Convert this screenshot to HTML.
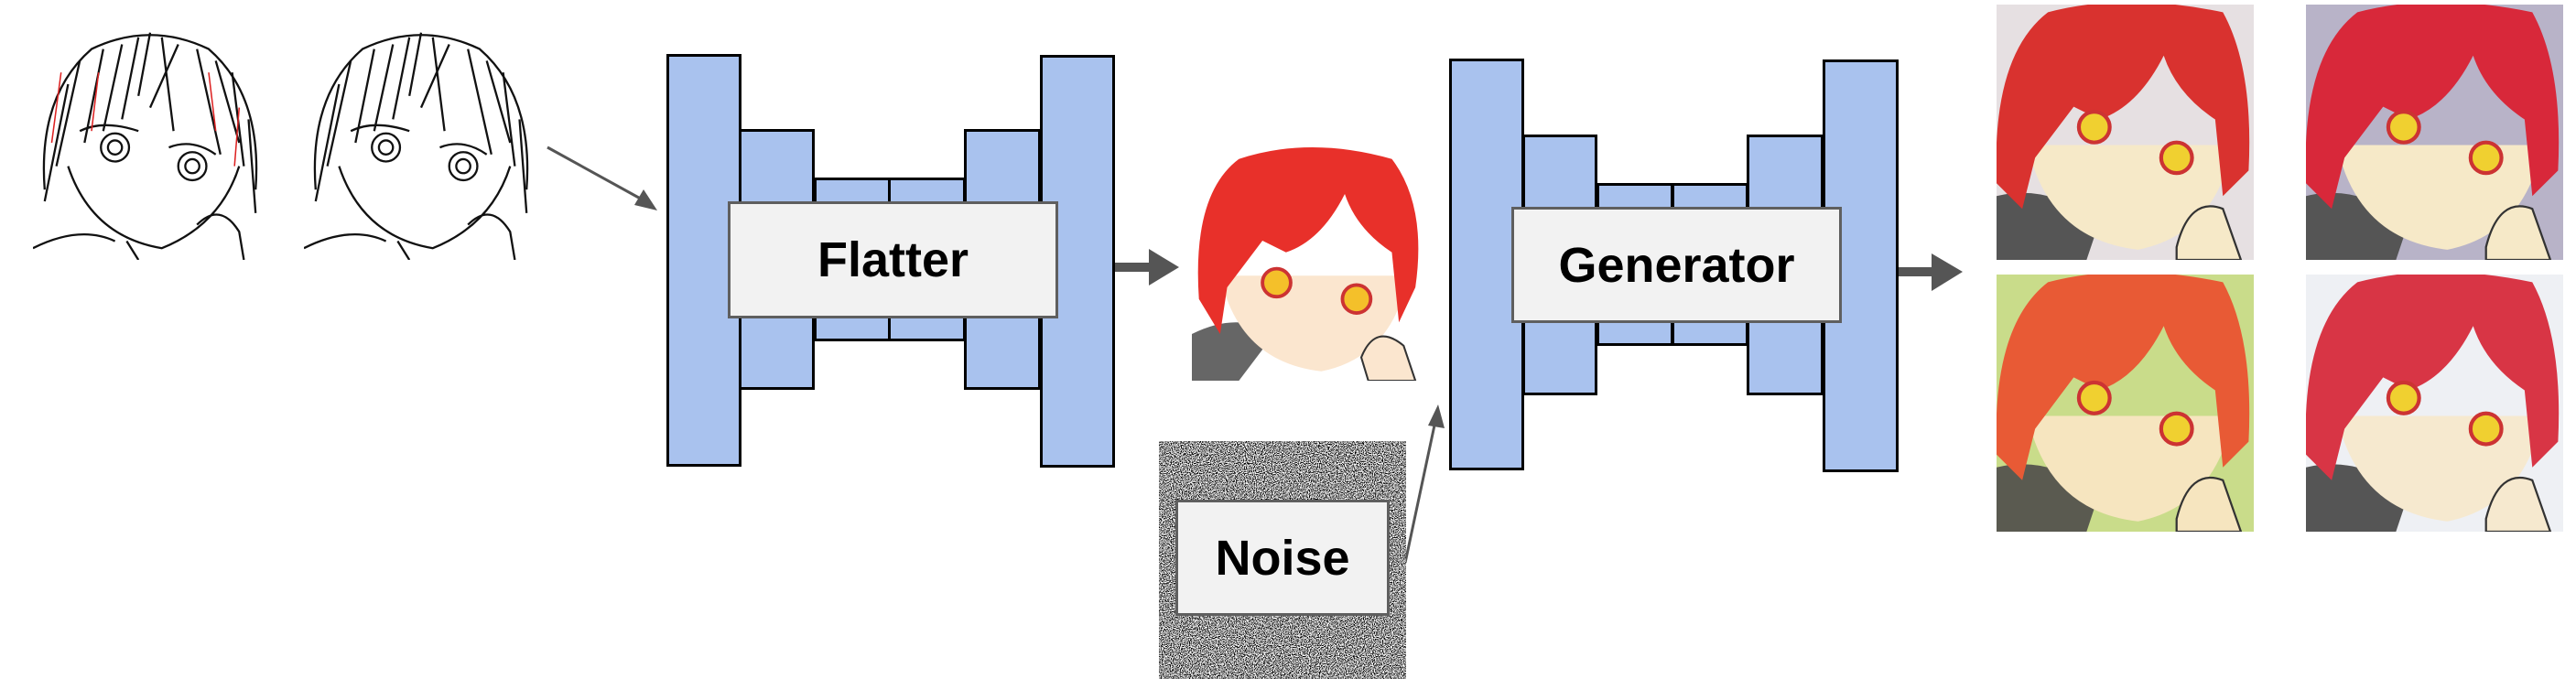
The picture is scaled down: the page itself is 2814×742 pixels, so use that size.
<!DOCTYPE html>
<html><head><meta charset="utf-8"><style>
html,body{margin:0;padding:0;background:#fff;}
body{width:2814px;height:742px;position:relative;overflow:hidden;font-family:"Liberation Sans",Arial,sans-serif;}
.b{position:absolute;background:#a9c2ee;border:3px solid #000;box-sizing:border-box;}
.box{position:absolute;background:#f2f2f2;border:3px solid #5f5f5f;box-sizing:border-box;display:flex;align-items:center;justify-content:center;font-weight:bold;font-size:54px;color:#000;}
.img{position:absolute;}
</style></head><body>

<!-- sketches -->
<svg class="img" style="left:36px;top:28px" width="256" height="256" viewBox="0 0 100 100" preserveAspectRatio="none">
<g fill="none" stroke="#111" stroke-width="0.9">
<path d="M5 70 Q2 30 25 10 Q50 -2 75 10 Q98 30 95 70"/><path d="M20 15 L10 60 M30 10 L22 50 M45 5 L38 40 M55 5 L60 45 M70 10 L80 55 M85 20 L90 60 M62 8 L50 35 M15 25 L5 75 M38 8 L30 45 M78 15 L88 50 M50 3 L45 30 M92 40 L95 80"/>
<path d="M15 60 Q25 90 55 95 Q80 85 88 60"/><circle cx="35" cy="52" r="6"/><circle cx="35" cy="52" r="3"/><circle cx="68" cy="60" r="6"/><circle cx="68" cy="60" r="3"/>
<path d="M0 95 Q20 85 35 92 M70 85 Q80 75 88 88 L90 100 M40 92 L45 100 M20 45 Q30 40 45 45 M58 52 Q68 48 78 55"/></g>
<g stroke="#d22" stroke-width="0.6"><path d="M12 20 L8 50 M28 20 L25 45 M75 20 L78 45 M88 35 L86 60"/></g>
</svg>
<svg class="img" style="left:332px;top:28px" width="256" height="256" viewBox="0 0 100 100" preserveAspectRatio="none">
<g fill="none" stroke="#111" stroke-width="0.9">
<path d="M5 70 Q2 30 25 10 Q50 -2 75 10 Q98 30 95 70"/><path d="M20 15 L10 60 M30 10 L22 50 M45 5 L38 40 M55 5 L60 45 M70 10 L80 55 M85 20 L90 60 M62 8 L50 35 M15 25 L5 75 M38 8 L30 45 M78 15 L88 50 M50 3 L45 30 M92 40 L95 80"/>
<path d="M15 60 Q25 90 55 95 Q80 85 88 60"/><circle cx="35" cy="52" r="6"/><circle cx="35" cy="52" r="3"/><circle cx="68" cy="60" r="6"/><circle cx="68" cy="60" r="3"/>
<path d="M0 95 Q20 85 35 92 M70 85 Q80 75 88 88 L90 100 M40 92 L45 100 M20 45 Q30 40 45 45 M58 52 Q68 48 78 55"/></g>
</svg>

<!-- arrows -->
<svg class="img" style="left:0;top:0" width="2814" height="742">
<line x1="598" y1="161" x2="705" y2="220" stroke="#555" stroke-width="3"/>
<polygon points="718,230 693,224 703,207" fill="#555"/>
<rect x="1217" y="287" width="40" height="10" fill="#555"/>
<polygon points="1255,272 1288,292 1255,312" fill="#555"/>
<rect x="2073" y="292" width="40" height="10" fill="#555"/>
<polygon points="2110,277 2144,297 2110,318" fill="#555"/>
<line x1="1535" y1="615" x2="1568" y2="460" stroke="#555" stroke-width="3"/>
<polygon points="1571,442 1578,468 1560,465" fill="#555"/>
</svg>

<!-- Flatter -->
<div class="b" style="left:728px;top:59px;width:82px;height:451px"></div>
<div class="b" style="left:807px;top:141px;width:83px;height:285px"></div>
<div class="b" style="left:889px;top:194px;width:84px;height:179px"></div>
<div class="b" style="left:970px;top:194px;width:85px;height:179px"></div>
<div class="b" style="left:1053px;top:141px;width:84px;height:285px"></div>
<div class="b" style="left:1136px;top:60px;width:82px;height:451px"></div>
<div class="box" style="left:795px;top:220px;width:361px;height:128px">Flatter</div>

<!-- Generator -->
<div class="b" style="left:1583px;top:64px;width:82px;height:450px"></div>
<div class="b" style="left:1663px;top:147px;width:82px;height:285px"></div>
<div class="b" style="left:1744px;top:200px;width:84px;height:178px"></div>
<div class="b" style="left:1826px;top:200px;width:84px;height:178px"></div>
<div class="b" style="left:1908px;top:147px;width:84px;height:285px"></div>
<div class="b" style="left:1991px;top:65px;width:83px;height:451px"></div>
<div class="box" style="left:1651px;top:226px;width:361px;height:127px">Generator</div>

<!-- noise -->
<svg class="img" style="left:1266px;top:482px" width="270" height="260">
<filter id="n2" x="0" y="0" width="100%" height="100%"><feTurbulence type="fractalNoise" baseFrequency="0.9" numOctaves="1" seed="5"/><feColorMatrix type="matrix" values="0 0 0 0 0 0 0 0 0 0 0 0 0 0 0 0 0 0 0 0" result="z"/><feTurbulence type="fractalNoise" baseFrequency="0.9" numOctaves="1" seed="5"/><feColorMatrix type="matrix" values="1 0 0 0 0 1 0 0 0 0 1 0 0 0 0 0 0 0 0 1"/><feComponentTransfer><feFuncR type="linear" slope="5" intercept="-2.1"/><feFuncG type="linear" slope="5" intercept="-2.1"/><feFuncB type="linear" slope="5" intercept="-2.1"/><feFuncA type="table" tableValues="1 1"/></feComponentTransfer></filter>
<rect width="270" height="260" fill="#777"/>
<rect width="270" height="260" filter="url(#n2)"/>
</svg>
<div class="box" style="left:1284px;top:546px;width:234px;height:127px">Noise</div>

<!-- faces -->
<svg class="img" style="left:1302px;top:161px" width="257" height="255" viewBox="0 0 100 100" preserveAspectRatio="none">
<rect width="100" height="100" fill="#fff"/>
<path d="M0 100 L0 80 Q20 70 35 80 L20 100Z" fill="#666"/>
<path d="M12 55 Q20 92 55 96 Q85 90 92 55 Z" fill="#fbe6cf"/>
<path d="M3 65 Q0 20 20 5 Q50 -5 85 5 Q100 25 95 60 L88 75 L85 45 Q70 35 65 20 Q55 40 40 45 L30 40 L15 60 L12 80Z" fill="#e8302a"/>
<circle cx="36" cy="58" r="6" fill="#f4c02a" stroke="#c33" stroke-width="1.5"/><circle cx="70" cy="65" r="6" fill="#f4c02a" stroke="#c33" stroke-width="1.5"/>
<path d="M72 90 Q78 75 90 85 L95 100 L75 100Z" fill="#fbe6cf" stroke="#333" stroke-width="0.8"/>
</svg>
<svg class="img" style="left:2181px;top:5px" width="281" height="279" viewBox="0 0 100 100" preserveAspectRatio="none">
<rect width="100" height="100" fill="#e6e0e2"/>
<path d="M0 100 L0 75 Q20 70 40 85 L35 100Z" fill="#555"/>
<path d="M12 55 Q20 92 55 96 Q85 90 92 55 Z" fill="#f6e9c8"/>
<path d="M0 70 Q-2 20 20 3 Q50 -5 88 3 Q100 25 98 65 L88 75 L85 45 Q70 35 65 20 Q55 40 40 45 L30 40 L15 60 L10 80Z" fill="#d9322f"/>
<circle cx="38" cy="48" r="6" fill="#f0d030" stroke="#c33" stroke-width="1.5"/><circle cx="70" cy="60" r="6" fill="#f0d030" stroke="#c33" stroke-width="1.5"/>
<path d="M70 95 Q75 75 88 80 L95 100 L70 100Z" fill="#f6e9c8" stroke="#333" stroke-width="0.8"/>
</svg>
<svg class="img" style="left:2519px;top:5px" width="281" height="279" viewBox="0 0 100 100" preserveAspectRatio="none">
<rect width="100" height="100" fill="#b8b3c8"/>
<path d="M0 100 L0 75 Q20 70 40 85 L35 100Z" fill="#555"/>
<path d="M12 55 Q20 92 55 96 Q85 90 92 55 Z" fill="#f6e9c8"/>
<path d="M0 70 Q-2 20 20 3 Q50 -5 88 3 Q100 25 98 65 L88 75 L85 45 Q70 35 65 20 Q55 40 40 45 L30 40 L15 60 L10 80Z" fill="#d8283a"/>
<circle cx="38" cy="48" r="6" fill="#f0d030" stroke="#c33" stroke-width="1.5"/><circle cx="70" cy="60" r="6" fill="#f0d030" stroke="#c33" stroke-width="1.5"/>
<path d="M70 95 Q75 75 88 80 L95 100 L70 100Z" fill="#f6e9c8" stroke="#333" stroke-width="0.8"/>
</svg>
<svg class="img" style="left:2181px;top:300px" width="281" height="281" viewBox="0 0 100 100" preserveAspectRatio="none">
<rect width="100" height="100" fill="#c9dc8a"/>
<path d="M0 100 L0 75 Q20 70 40 85 L35 100Z" fill="#5a5a50"/>
<path d="M12 55 Q20 92 55 96 Q85 90 92 55 Z" fill="#f6e5bf"/>
<path d="M0 70 Q-2 20 20 3 Q50 -5 88 3 Q100 25 98 65 L88 75 L85 45 Q70 35 65 20 Q55 40 40 45 L30 40 L15 60 L10 80Z" fill="#e85a35"/>
<circle cx="38" cy="48" r="6" fill="#f0d030" stroke="#c33" stroke-width="1.5"/><circle cx="70" cy="60" r="6" fill="#f0d030" stroke="#c33" stroke-width="1.5"/>
<path d="M70 95 Q75 75 88 80 L95 100 L70 100Z" fill="#f6e5bf" stroke="#333" stroke-width="0.8"/>
</svg>
<svg class="img" style="left:2519px;top:300px" width="281" height="281" viewBox="0 0 100 100" preserveAspectRatio="none">
<rect width="100" height="100" fill="#eef0f4"/>
<path d="M0 100 L0 75 Q20 70 40 85 L35 100Z" fill="#555"/>
<path d="M12 55 Q20 92 55 96 Q85 90 92 55 Z" fill="#f6e9cf"/>
<path d="M0 70 Q-2 20 20 3 Q50 -5 88 3 Q100 25 98 65 L88 75 L85 45 Q70 35 65 20 Q55 40 40 45 L30 40 L15 60 L10 80Z" fill="#d83545"/>
<circle cx="38" cy="48" r="6" fill="#f0d030" stroke="#c33" stroke-width="1.5"/><circle cx="70" cy="60" r="6" fill="#f0d030" stroke="#c33" stroke-width="1.5"/>
<path d="M70 95 Q75 75 88 80 L95 100 L70 100Z" fill="#f6e9cf" stroke="#333" stroke-width="0.8"/>
</svg>

</body></html>
